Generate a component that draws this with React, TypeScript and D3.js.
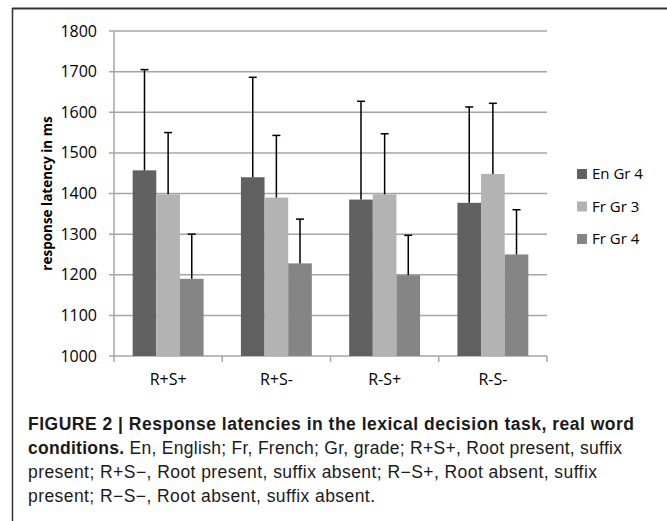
import * as d3 from 'd3';

const categories = ['R+S+', 'R+S-', 'R-S+', 'R-S-'];
const seriesNames = ['En Gr 4', 'Fr Gr 3', 'Fr Gr 4'];
const enGr4 = [1457, 1440, 1385, 1377];
const frGr3 = [1398, 1390, 1398, 1448];
const frGr4 = [1190, 1228, 1199, 1250];
// upper error bar lengths (ms)
const enGr4Err = [248, 246, 242, 236];
const frGr3Err = [152, 153, 149, 174];
const frGr4Err = [110, 109, 98, 110];
const yTicks = [1000, 1100, 1200, 1300, 1400, 1500, 1600, 1700, 1800];

const colors = ['#616161', '#b3b3b3', '#858585'];
const values = [enGr4, frGr3, frGr4];
const errors = [enGr4Err, frGr3Err, frGr4Err];

const chartFont = '"Open Sans", sans-serif';
const captionFont = '"Liberation Sans", Arial, sans-serif';

const App = () => {
  const left = 114;
  const right = 547;
  const top = 31;
  const bottom = 356;

  const x = d3.scaleBand().domain(categories).range([left, right]);
  const inner = d3
    .scaleBand()
    .domain(seriesNames)
    .range([0, x.bandwidth()])
    .paddingOuter(0.79)
    .paddingInner(0);
  const y = d3.scaleLinear().domain([1000, 1800]).range([bottom, top]);

  const capW = 4;

  return (
    <svg width={667} height={521} style={{ position: 'absolute', left: 0, top: 0, background: '#fff' }}>
      {/* frame */}
      <line x1={12} x2={667} y1={8.5} y2={8.5} stroke="#333" strokeWidth={2} />
      <line x1={12.5} x2={12.5} y1={8} y2={521} stroke="#333" strokeWidth={1.5} />

      {/* gridlines + y ticks */}
      {yTicks.map(t => (
        <g key={t}>
          <line x1={left - 5} x2={right} y1={y(t)} y2={y(t)} stroke="#a6a6a6" strokeWidth={1.5} />
          <text
            x={97}
            y={y(t)}
            dy="0.35em"
            textAnchor="end"
            fontFamily={chartFont}
            fontSize={16}
            fill="#000"
          >
            {t}
          </text>
        </g>
      ))}
      {/* y axis line */}
      <line x1={left} x2={left} y1={top} y2={bottom} stroke="#a6a6a6" strokeWidth={1.5} />

      {/* x tick marks */}
      {[...categories.map(c => x(c) as number), right].map((v, i) => (
        <line key={i} x1={v} x2={v} y1={bottom} y2={bottom + 6} stroke="#a6a6a6" strokeWidth={1.5} />
      ))}

      {/* bars */}
      {categories.map((c, ci) => (
        <g key={c} transform={`translate(${x(c)},0)`}>
          {seriesNames.map((s, si) => {
            const v = values[si][ci];
            const bx = inner(s) as number;
            const bw = inner.bandwidth();
            const cx = bx + bw / 2;
            const e = v + errors[si][ci];
            return (
              <g key={s}>
                <rect x={bx} y={y(v)} width={bw} height={y(1000) - y(v)} fill={colors[si]} />
                <line x1={cx} x2={cx} y1={y(v)} y2={y(e)} stroke="#000" strokeWidth={1.5} />
                <line x1={cx - capW} x2={cx + capW} y1={y(e)} y2={y(e)} stroke="#000" strokeWidth={1.5} />
              </g>
            );
          })}
          <text
            x={x.bandwidth() / 2}
            y={385}
            textAnchor="middle"
            fontFamily={chartFont}
            fontSize={16}
            fill="#000"
          >
            {c}
          </text>
        </g>
      ))}

      {/* y axis title */}
      <text
        transform={`translate(52,${(top + bottom) / 2}) rotate(-90)`}
        textAnchor="middle"
        fontFamily={chartFont}
        fontWeight="bold"
        fontSize={13.5}
        fill="#000"
      >
        response latency in ms
      </text>

      {/* legend */}
      {seriesNames.map((s, i) => (
        <g key={s} transform={`translate(577,${174 + i * 32.5})`}>
          <rect x={0} y={-5} width={10} height={10} fill={colors[i]} />
          <text x={15} y={0} dy="0.35em" fontFamily={chartFont} fontSize={15} fill="#000">
            {s}
          </text>
        </g>
      ))}

      {/* caption */}
      <g fontFamily={captionFont} fontSize={17.5} fill="#1a1a1a">
        <text x={28} y={430} fontWeight="bold" textLength={606} lengthAdjust="spacing">
          FIGURE 2 | Response latencies in the lexical decision task, real word
        </text>
        <text x={28} y={454} textLength={594} lengthAdjust="spacing">
          <tspan fontWeight="bold">conditions.</tspan> En, English; Fr, French; Gr, grade; R+S+, Root present, suffix
        </text>
        <text x={28} y={478} textLength={569} lengthAdjust="spacing">
          present; R+S−, Root present, suffix absent; R−S+, Root absent, suffix
        </text>
        <text x={28} y={502} textLength={347} lengthAdjust="spacing">
          present; R−S−, Root absent, suffix absent.
        </text>
      </g>
    </svg>
  );
};

export default App;
